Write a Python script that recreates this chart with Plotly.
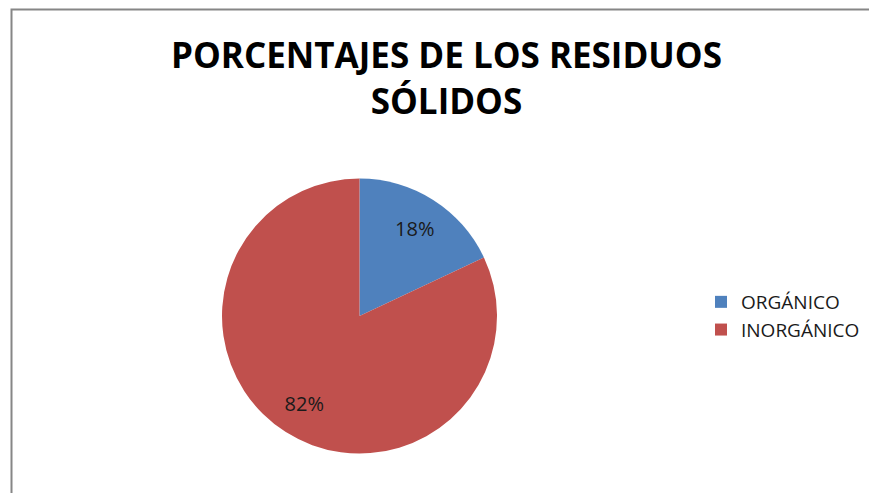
import plotly.graph_objects as go

labels = ["ORGÁNICO", "INORGÁNICO"]
values = [18, 82]
colors = ["#4F81BD", "#C0504D"]
title_text = "PORCENTAJES DE LOS RESIDUOS<br>SÓLIDOS"

W, H = 869, 493
cx, cy, R = 359.5, 316, 137.5
pie_domain = dict(x=[(cx - R) / W, (cx + R) / W],
                  y=[(H - cy - R) / H, (H - cy + R) / H])

fig = go.Figure()
# colored slices
fig.add_trace(go.Pie(
    labels=labels, values=values,
    marker=dict(colors=colors, line=dict(width=0)),
    sort=False, direction="clockwise", rotation=0,
    textinfo="none",
    domain=pie_domain,
    hoverinfo="label+percent",
))
# transparent ring carrying the percentage labels (places text at ~3/4 radius)
fig.add_trace(go.Pie(
    labels=labels, values=values, hole=0.5,
    marker=dict(colors=["rgba(0,0,0,0)"] * len(values), line=dict(width=0)),
    sort=False, direction="clockwise", rotation=0,
    texttemplate="%{percent:.0%}",
    textposition="inside",
    insidetextorientation="horizontal",
    textfont=dict(family="Open Sans", size=20, color="#1a1a1a"),
    domain=pie_domain,
    showlegend=False,
    hoverinfo="skip",
))

fig.update_layout(
    width=W, height=H,
    margin=dict(l=0, r=0, t=0, b=0),
    paper_bgcolor="white",
    plot_bgcolor="white",
    title=dict(text=title_text, x=446.5 / W, xanchor="center",
               y=1 - 68 / H, yanchor="top", yref="container",
               font=dict(family="Open Sans", size=35, color="#000000", weight="bold")),
    legend=dict(x=701 / W, xanchor="left", y=(H - 316) / H, yanchor="middle",
                font=dict(family="Open Sans", size=19, color="#1a1a1a"),
                bgcolor="rgba(0,0,0,0)"),
    shapes=[dict(type="rect", xref="paper", yref="paper",
                 x0=11.5 / W, x1=1.2, y0=-0.2, y1=1 - 9.5 / H,
                 line=dict(color="#868686", width=2), fillcolor="rgba(0,0,0,0)")],
)

fig.write_html("out.html",
               config={"displayModeBar": False},
               post_script="document.body.style.margin='0';document.body.style.overflow='hidden';")
